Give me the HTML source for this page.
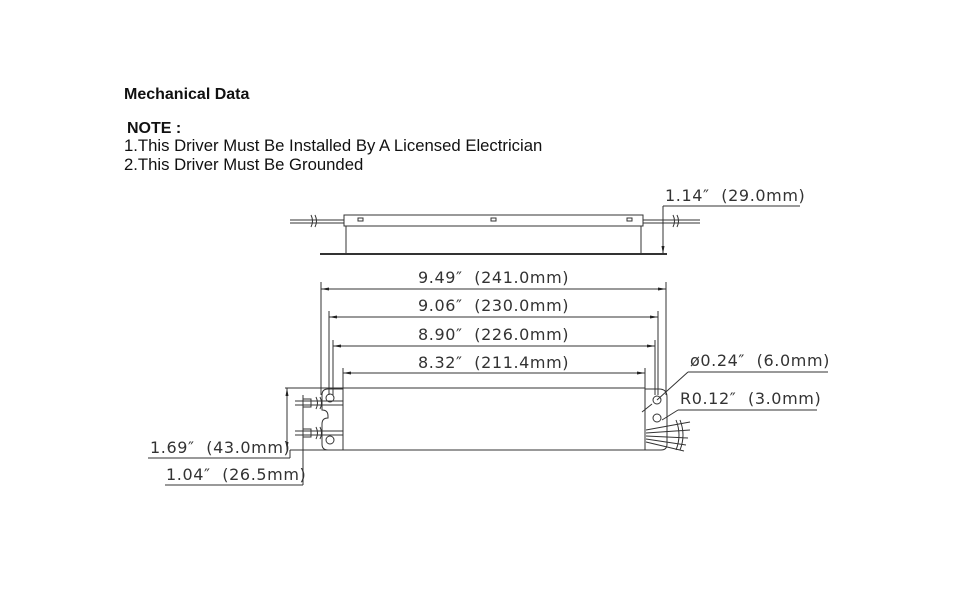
<!DOCTYPE html>
<html><head><meta charset="utf-8"><style>
body{margin:0;background:#fff;width:960px;height:600px;overflow:hidden}
svg{display:block}
.t{font-family:"Liberation Sans",sans-serif;fill:#111}
.d{font-family:"DejaVu Sans","Liberation Sans",sans-serif;font-size:16px;fill:#333;letter-spacing:0.6px;word-spacing:6px}
</style></head><body>
<svg width="960" height="600" viewBox="0 0 960 600" xmlns="http://www.w3.org/2000/svg">
<defs><marker id="a" markerWidth="8" markerHeight="6" refX="8" refY="3" orient="auto-start-reverse" markerUnits="userSpaceOnUse"><path d="M0,1.5 L8,3 L0,4.5z" fill="#222"/></marker></defs>
<text class="t" x="124" y="99" font-size="16" font-weight="bold">Mechanical Data</text>
<text class="t" x="127" y="133" font-size="16" font-weight="bold">NOTE :</text>
<text class="t" x="124" y="151" font-size="16.7">1.This Driver Must Be Installed By A Licensed Electrician</text>
<text class="t" x="124" y="170" font-size="16.7">2.This Driver Must Be Grounded</text>
<g stroke="#333" fill="none" stroke-width="1">
<rect x="344" y="215" width="299" height="11"/>
<path d="M346 226 V254 M641 226 V254"/>
<path d="M320 254 H667" stroke-width="2"/>
<rect x="358" y="218" width="5" height="3"/><rect x="491" y="218" width="5" height="3"/><rect x="627" y="218" width="5" height="3"/>
<path d="M290 220 H344 M290 223 H344 M643 220 H700 M643 223 H700"/>
<path d="M311 215 q3 6 0 12 M315 215 q3 6 0 12 M673 215 q3 6 0 12 M677 215 q3 6 0 12"/>
<path d="M663 206 V254" marker-end="url(#a)"/>
<path d="M663 206 H800"/>
<path d="M321 282 V395 M666 282 V395 M329 311 V395 M658 311 V395 M333 340 V395 M655 340 V395 M343 368 V389 M645 368 V389"/>
<path d="M321 289 H666" marker-start="url(#a)" marker-end="url(#a)"/>
<path d="M329 317 H658" marker-start="url(#a)" marker-end="url(#a)"/>
<path d="M333 346 H655" marker-start="url(#a)" marker-end="url(#a)"/>
<path d="M343 373 H645" marker-start="url(#a)" marker-end="url(#a)"/>
<rect x="343" y="388" width="302" height="62"/>
<path d="M285 388 H343 M343 450 H290"/>
<path d="M343 389 H328 q-6 0 -6 6 V410 q6 0 6 6 V418 q-6 0 -6 6 V444 q0 6 6 6 H343"/>
<path d="M645 389 H659 q8 0 8 8 V444 q0 6 -6 6 H645"/>
<circle cx="330" cy="398" r="4"/><circle cx="330" cy="440" r="4"/><circle cx="657" cy="400" r="4"/><circle cx="657" cy="418" r="4"/>
<path d="M295 401 H343 M295 405 H343 M295 431 H343 M295 435 H343"/>
<rect x="303" y="399" width="8" height="8"/><rect x="303" y="429" width="8" height="8"/>
<path d="M316 397 q3 6 0 12 M320 397 q3 6 0 12 M316 427 q3 6 0 12 M320 427 q3 6 0 12"/>
<path d="M646 430 L690 422 M646 433 L690 430 M646 436 L688 438 M646 439 L686 445 M646 442 L684 451 M676 420 q6 15 0 30 M680 420 q6 15 0 30"/>
<path d="M287 388 V450" marker-start="url(#a)" marker-end="url(#a)"/>
<path d="M148 458 H290 M290 450 V458"/>
<path d="M303 395 V485 M165 485 H303"/>
<path d="M688 372 H828 M688 372 L657 400"/>
<path d="M678 410 H817 M678 410 L662 420"/>
<path d="M642 412 L652 404"/>
</g>
<text class="d" x="665" y="201">1.14″ (29.0mm)</text>
<text class="d" x="418" y="283">9.49″ (241.0mm)</text>
<text class="d" x="418" y="311">9.06″ (230.0mm)</text>
<text class="d" x="418" y="340">8.90″ (226.0mm)</text>
<text class="d" x="418" y="368">8.32″ (211.4mm)</text>
<text class="d" x="690" y="366">ø0.24″ (6.0mm)</text>
<text class="d" x="680" y="404">R0.12″ (3.0mm)</text>
<text class="d" x="150" y="453">1.69″ (43.0mm)</text>
<text class="d" x="166" y="480">1.04″ (26.5mm)</text>
</svg>
</body></html>
